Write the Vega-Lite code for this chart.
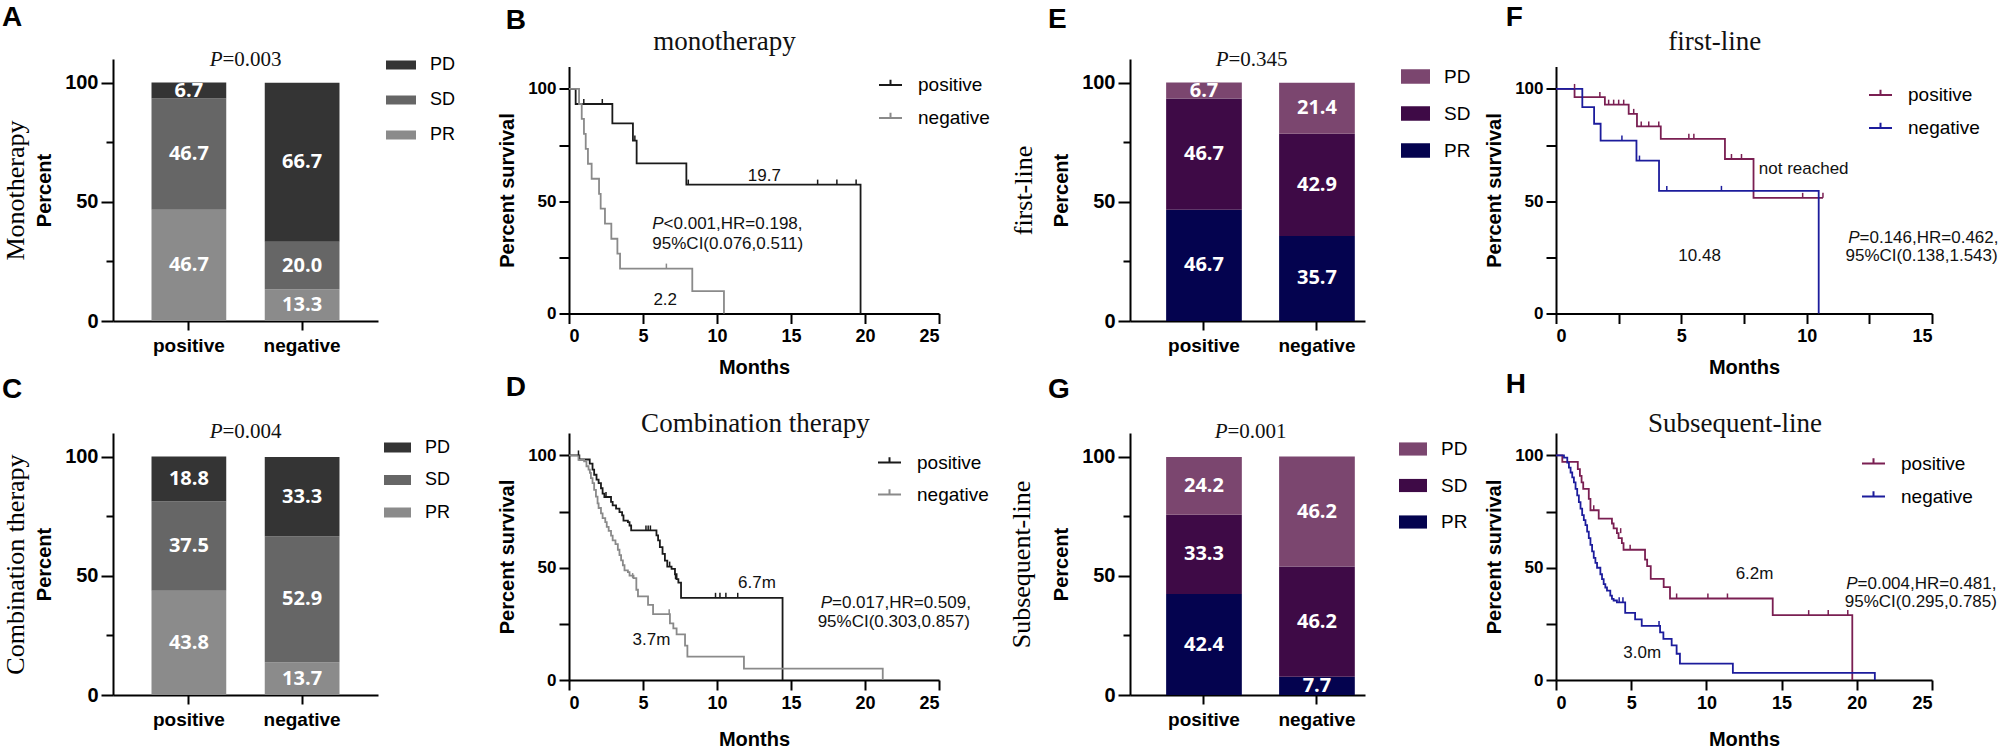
{
  "$schema": "https://vega.github.io/schema/vega-lite/v6.json",
  "background": "white",
  "padding": {"left": 2, "top": 3, "right": 0, "bottom": 0},
  "columns": 4,
  "spacing": {"row": 112, "column": 191},
  "bounds": "flush",
  "align": "each",
  "center": {"row": true, "column": false},
  "datasets": {
    "barA": [
      {"grp": "positive", "s": "PR", "o": 1, "v": 46.7},
      {"grp": "positive", "s": "SD", "o": 2, "v": 46.7},
      {"grp": "positive", "s": "PD", "o": 3, "v": 6.7},
      {"grp": "negative", "s": "PR", "o": 1, "v": 13.3},
      {"grp": "negative", "s": "SD", "o": 2, "v": 20.0},
      {"grp": "negative", "s": "PD", "o": 3, "v": 66.7}
    ],
    "barC": [
      {"grp": "positive", "s": "PR", "o": 1, "v": 43.8},
      {"grp": "positive", "s": "SD", "o": 2, "v": 37.5},
      {"grp": "positive", "s": "PD", "o": 3, "v": 18.8},
      {"grp": "negative", "s": "PR", "o": 1, "v": 13.7},
      {"grp": "negative", "s": "SD", "o": 2, "v": 52.9},
      {"grp": "negative", "s": "PD", "o": 3, "v": 33.3}
    ],
    "barE": [
      {"grp": "positive", "s": "PR", "o": 1, "v": 46.7},
      {"grp": "positive", "s": "SD", "o": 2, "v": 46.7},
      {"grp": "positive", "s": "PD", "o": 3, "v": 6.7},
      {"grp": "negative", "s": "PR", "o": 1, "v": 35.7},
      {"grp": "negative", "s": "SD", "o": 2, "v": 42.9},
      {"grp": "negative", "s": "PD", "o": 3, "v": 21.4}
    ],
    "barG": [
      {"grp": "positive", "s": "PR", "o": 1, "v": 42.4},
      {"grp": "positive", "s": "SD", "o": 2, "v": 33.3},
      {"grp": "positive", "s": "PD", "o": 3, "v": 24.2},
      {"grp": "negative", "s": "PR", "o": 1, "v": 7.7},
      {"grp": "negative", "s": "SD", "o": 2, "v": 46.2},
      {"grp": "negative", "s": "PD", "o": 3, "v": 46.2}
    ],
    "kmB": [
      {"g": "positive", "t": 0, "s": 100}, {"g": "positive", "t": 0.45, "s": 93.3}, {"g": "positive", "t": 2.93, "s": 84.7},
      {"g": "positive", "t": 4.32, "s": 77.0}, {"g": "positive", "t": 4.57, "s": 66.9}, {"g": "positive", "t": 7.93, "s": 57.4},
      {"g": "positive", "t": 19.7, "s": 0},
      {"g": "negative", "t": 0, "s": 100}, {"g": "negative", "t": 0.68, "s": 93.3}, {"g": "negative", "t": 0.86, "s": 86.7},
      {"g": "negative", "t": 1.01, "s": 80.0}, {"g": "negative", "t": 1.13, "s": 73.3}, {"g": "negative", "t": 1.28, "s": 66.7},
      {"g": "negative", "t": 1.53, "s": 60.0}, {"g": "negative", "t": 2.03, "s": 53.3}, {"g": "negative", "t": 2.14, "s": 46.7},
      {"g": "negative", "t": 2.43, "s": 40.0}, {"g": "negative", "t": 2.86, "s": 33.3}, {"g": "negative", "t": 3.27, "s": 26.7},
      {"g": "negative", "t": 3.45, "s": 20.0}, {"g": "negative", "t": 8.33, "s": 10.0}, {"g": "negative", "t": 10.47, "s": 0}
    ],
    "cenB": [
      {"g": "positive", "t": 1.0, "s": 93.3}, {"g": "positive", "t": 2.25, "s": 93.3}, {"g": "positive", "t": 4.45, "s": 77.0},
      {"g": "positive", "t": 8.06, "s": 57.4}, {"g": "positive", "t": 16.8, "s": 57.4}, {"g": "positive", "t": 18.1, "s": 57.4},
      {"g": "positive", "t": 19.4, "s": 57.4},
      {"g": "negative", "t": 6.58, "s": 20.0}
    ],
    "kmD": [
      {"g": "positive", "t": 0, "s": 100}, {"g": "positive", "t": 0.7, "s": 98.2}, {"g": "positive", "t": 1.4, "s": 96.4},
      {"g": "positive", "t": 1.59, "s": 93.7}, {"g": "positive", "t": 1.7, "s": 91.4}, {"g": "positive", "t": 1.86, "s": 89.2},
      {"g": "positive", "t": 2.0, "s": 87.7}, {"g": "positive", "t": 2.16, "s": 85.4}, {"g": "positive", "t": 2.27, "s": 83.0},
      {"g": "positive", "t": 2.39, "s": 81.5}, {"g": "positive", "t": 2.84, "s": 79.3}, {"g": "positive", "t": 2.95, "s": 77.8},
      {"g": "positive", "t": 3.18, "s": 76.3}, {"g": "positive", "t": 3.41, "s": 74.8}, {"g": "positive", "t": 3.59, "s": 73.3},
      {"g": "positive", "t": 3.68, "s": 71.0}, {"g": "positive", "t": 3.98, "s": 70.3}, {"g": "positive", "t": 4.09, "s": 68.8},
      {"g": "positive", "t": 4.2, "s": 66.6}, {"g": "positive", "t": 5.91, "s": 64.4}, {"g": "positive", "t": 6.02, "s": 62.2},
      {"g": "positive", "t": 6.14, "s": 59.2}, {"g": "positive", "t": 6.32, "s": 56.2}, {"g": "positive", "t": 6.48, "s": 53.2},
      {"g": "positive", "t": 6.64, "s": 50.5}, {"g": "positive", "t": 6.93, "s": 49.5}, {"g": "positive", "t": 7.16, "s": 47.1},
      {"g": "positive", "t": 7.27, "s": 44.9}, {"g": "positive", "t": 7.39, "s": 43.4}, {"g": "positive", "t": 7.57, "s": 36.6},
      {"g": "positive", "t": 14.43, "s": 0},
      {"g": "negative", "t": 0, "s": 100}, {"g": "negative", "t": 0.64, "s": 98.0}, {"g": "negative", "t": 1.02, "s": 97.4},
      {"g": "negative", "t": 1.18, "s": 95.2}, {"g": "negative", "t": 1.32, "s": 93.7}, {"g": "negative", "t": 1.41, "s": 92.2},
      {"g": "negative", "t": 1.48, "s": 89.9}, {"g": "negative", "t": 1.59, "s": 87.7}, {"g": "negative", "t": 1.7, "s": 84.7},
      {"g": "negative", "t": 1.82, "s": 81.7}, {"g": "negative", "t": 1.93, "s": 78.7}, {"g": "negative", "t": 2.0, "s": 76.6},
      {"g": "negative", "t": 2.16, "s": 74.2}, {"g": "negative", "t": 2.27, "s": 72.1}, {"g": "negative", "t": 2.45, "s": 70.3},
      {"g": "negative", "t": 2.55, "s": 68.2}, {"g": "negative", "t": 2.68, "s": 66.4}, {"g": "negative", "t": 2.84, "s": 64.3},
      {"g": "negative", "t": 2.95, "s": 62.2}, {"g": "negative", "t": 3.14, "s": 60.5}, {"g": "negative", "t": 3.3, "s": 58.0},
      {"g": "negative", "t": 3.41, "s": 55.6}, {"g": "negative", "t": 3.52, "s": 53.3}, {"g": "negative", "t": 3.64, "s": 51.1},
      {"g": "negative", "t": 3.75, "s": 48.8}, {"g": "negative", "t": 3.98, "s": 48.0}, {"g": "negative", "t": 4.09, "s": 46.5},
      {"g": "negative", "t": 4.36, "s": 45.4}, {"g": "negative", "t": 4.55, "s": 40.2}, {"g": "negative", "t": 4.66, "s": 37.2},
      {"g": "negative", "t": 5.34, "s": 33.5}, {"g": "negative", "t": 5.68, "s": 29.3}, {"g": "negative", "t": 6.82, "s": 25.2},
      {"g": "negative", "t": 7.05, "s": 23.0}, {"g": "negative", "t": 7.27, "s": 20.3}, {"g": "negative", "t": 7.84, "s": 15.3},
      {"g": "negative", "t": 8.0, "s": 10.4}, {"g": "negative", "t": 11.82, "s": 5.1}, {"g": "negative", "t": 21.2, "s": 0}
    ],
    "cenD": [
      {"g": "positive", "t": 0.64, "s": 100}, {"g": "positive", "t": 2.5, "s": 81.5}, {"g": "positive", "t": 5.2, "s": 66.6},
      {"g": "positive", "t": 5.35, "s": 66.6}, {"g": "positive", "t": 5.5, "s": 66.6}, {"g": "positive", "t": 6.8, "s": 50.5},
      {"g": "positive", "t": 7.2, "s": 44.9}, {"g": "positive", "t": 9.9, "s": 36.6}, {"g": "positive", "t": 10.2, "s": 36.6},
      {"g": "positive", "t": 10.6, "s": 36.6}, {"g": "positive", "t": 11.4, "s": 36.6},
      {"g": "negative", "t": 4.3, "s": 45.4}, {"g": "negative", "t": 6.77, "s": 29.3}
    ],
    "kmF": [
      {"g": "positive", "t": 0, "s": 100}, {"g": "positive", "t": 0.74, "s": 96.4}, {"g": "positive", "t": 1.95, "s": 93.0},
      {"g": "positive", "t": 2.9, "s": 88.9}, {"g": "positive", "t": 3.23, "s": 83.3}, {"g": "positive", "t": 4.18, "s": 77.8},
      {"g": "positive", "t": 6.74, "s": 68.8}, {"g": "positive", "t": 7.88, "s": 51.5}, {"g": "positive", "t": 10.65, "s": 51.5},
      {"g": "negative", "t": 0, "s": 100}, {"g": "negative", "t": 1.05, "s": 91.9}, {"g": "negative", "t": 1.52, "s": 84.5},
      {"g": "negative", "t": 1.78, "s": 77.0}, {"g": "negative", "t": 3.21, "s": 68.1}, {"g": "negative", "t": 4.11, "s": 54.6},
      {"g": "negative", "t": 10.48, "s": 0}
    ],
    "cenF": [
      {"g": "positive", "t": 0.74, "s": 100}, {"g": "positive", "t": 1.75, "s": 96.4}, {"g": "positive", "t": 2.1, "s": 93.0},
      {"g": "positive", "t": 2.3, "s": 93.0}, {"g": "positive", "t": 2.5, "s": 93.0}, {"g": "positive", "t": 2.7, "s": 93.0},
      {"g": "positive", "t": 3.1, "s": 88.9}, {"g": "positive", "t": 3.4, "s": 83.3}, {"g": "positive", "t": 3.7, "s": 83.3},
      {"g": "positive", "t": 4.1, "s": 83.3}, {"g": "positive", "t": 5.3, "s": 77.8}, {"g": "positive", "t": 5.5, "s": 77.8},
      {"g": "positive", "t": 7.0, "s": 68.8}, {"g": "positive", "t": 7.4, "s": 68.8}, {"g": "positive", "t": 9.84, "s": 51.5},
      {"g": "positive", "t": 10.65, "s": 51.5},
      {"g": "negative", "t": 2.63, "s": 77.0}, {"g": "negative", "t": 3.33, "s": 68.1}, {"g": "negative", "t": 4.42, "s": 54.6},
      {"g": "negative", "t": 6.6, "s": 54.6}
    ],
    "kmH": [
      {"g": "positive", "t": 0, "s": 100}, {"g": "positive", "t": 0.42, "s": 97.1}, {"g": "positive", "t": 1.45, "s": 93.9},
      {"g": "positive", "t": 1.59, "s": 90.9}, {"g": "positive", "t": 1.7, "s": 88.0}, {"g": "positive", "t": 1.81, "s": 85.1},
      {"g": "positive", "t": 2.18, "s": 80.7}, {"g": "positive", "t": 2.29, "s": 75.6}, {"g": "positive", "t": 2.84, "s": 71.9},
      {"g": "positive", "t": 3.72, "s": 69.7}, {"g": "positive", "t": 3.83, "s": 67.5}, {"g": "positive", "t": 4.05, "s": 65.4},
      {"g": "positive", "t": 4.16, "s": 63.2}, {"g": "positive", "t": 4.38, "s": 61.0}, {"g": "positive", "t": 4.49, "s": 58.0},
      {"g": "positive", "t": 5.92, "s": 53.6}, {"g": "positive", "t": 6.06, "s": 50.7}, {"g": "positive", "t": 6.3, "s": 45.0},
      {"g": "positive", "t": 7.16, "s": 41.4}, {"g": "positive", "t": 7.58, "s": 36.3}, {"g": "positive", "t": 14.41, "s": 28.9},
      {"g": "positive", "t": 19.7, "s": 0},
      {"g": "negative", "t": 0, "s": 100}, {"g": "negative", "t": 0.53, "s": 99.0}, {"g": "negative", "t": 0.75, "s": 96.8},
      {"g": "negative", "t": 0.86, "s": 94.6}, {"g": "negative", "t": 0.97, "s": 92.4}, {"g": "negative", "t": 1.08, "s": 90.2},
      {"g": "negative", "t": 1.19, "s": 88.0}, {"g": "negative", "t": 1.3, "s": 85.1}, {"g": "negative", "t": 1.41, "s": 82.2},
      {"g": "negative", "t": 1.52, "s": 79.2}, {"g": "negative", "t": 1.63, "s": 76.3}, {"g": "negative", "t": 1.74, "s": 73.4},
      {"g": "negative", "t": 1.85, "s": 71.2}, {"g": "negative", "t": 1.96, "s": 69.0}, {"g": "negative", "t": 2.07, "s": 66.1},
      {"g": "negative", "t": 2.18, "s": 63.2}, {"g": "negative", "t": 2.29, "s": 60.2}, {"g": "negative", "t": 2.4, "s": 57.3},
      {"g": "negative", "t": 2.51, "s": 54.4}, {"g": "negative", "t": 2.62, "s": 52.2}, {"g": "negative", "t": 2.73, "s": 50.0},
      {"g": "negative", "t": 2.95, "s": 47.1}, {"g": "negative", "t": 3.06, "s": 44.9}, {"g": "negative", "t": 3.17, "s": 42.7},
      {"g": "negative", "t": 3.28, "s": 41.2}, {"g": "negative", "t": 3.39, "s": 39.8}, {"g": "negative", "t": 3.61, "s": 37.6},
      {"g": "negative", "t": 3.72, "s": 36.1}, {"g": "negative", "t": 3.83, "s": 35.4}, {"g": "negative", "t": 4.05, "s": 34.6},
      {"g": "negative", "t": 4.6, "s": 29.9}, {"g": "negative", "t": 5.26, "s": 27.0}, {"g": "negative", "t": 5.7, "s": 24.1},
      {"g": "negative", "t": 6.92, "s": 21.2}, {"g": "negative", "t": 7.14, "s": 18.3}, {"g": "negative", "t": 7.69, "s": 15.4},
      {"g": "negative", "t": 8.02, "s": 11.7}, {"g": "negative", "t": 8.24, "s": 7.3}, {"g": "negative", "t": 11.76, "s": 3.2},
      {"g": "negative", "t": 21.2, "s": 0}
    ],
    "cenH": [
      {"g": "positive", "t": 2.51, "s": 75.6}, {"g": "positive", "t": 4.3, "s": 65.4}, {"g": "positive", "t": 4.93, "s": 58.0},
      {"g": "positive", "t": 8.02, "s": 36.3}, {"g": "positive", "t": 10.1, "s": 36.3}, {"g": "positive", "t": 11.4, "s": 36.3},
      {"g": "positive", "t": 16.8, "s": 28.9}, {"g": "positive", "t": 18.1, "s": 28.9}, {"g": "positive", "t": 19.4, "s": 28.9},
      {"g": "negative", "t": 4.2, "s": 34.6}, {"g": "negative", "t": 4.45, "s": 34.6}, {"g": "negative", "t": 6.85, "s": 24.1}
    ]
  },
  "concat": [
    {
      "width": 265, "height": 262,
      "title": {"text": "A", "offset": 16.5, "dx": 0},
      "data": {"name": "barA"},
      "layer": [
        {
          "mark": {"type": "bar"},
          "encoding": {
            "x": {"field": "grp", "type": "nominal", "sort": ["positive", "negative"], "scale": {"paddingInner": 0.34, "paddingOuter": 0.34}, "axis": {"title": null, "labelAngle": 0, "labelFontSize": 19, "tickSize": 9, "labelPadding": 6}},
            "y": {"field": "v", "type": "quantitative", "stack": "zero", "scale": {"domain": [0, 110], "nice": false}, "axis": {"title": "Percent", "values": [0, 50, 100], "tickSize": 12, "labelPadding": 3, "labelFontSize": 20, "titleFontSize": 20, "titlePadding": 10, "minExtent": 0}},
            "color": {"field": "s", "type": "nominal", "scale": {"domain": ["PD", "SD", "PR"], "range": ["#343434", "#666666", "#8b8b8b"]}, "legend": {"title": null, "orient": "none", "direction": "vertical", "legendX": 273, "legendY": -9, "symbolType": "M-1,-0.3H1V0.3H-1Z", "symbolSize": 900, "symbolStrokeWidth": 0, "labelFontSize": 18, "labelOffset": 14, "rowPadding": 11}},
            "order": {"field": "o", "type": "quantitative"}
          }
        },
        {
          "transform": [
            {"stack": "v", "groupby": ["grp"], "sort": [{"field": "o"}], "as": ["lo", "hi"]},
            {"fold": ["lo", "hi"], "as": ["edge", "pos"]},
            {"aggregate": [{"op": "mean", "field": "pos", "as": "mid"}], "groupby": ["grp", "s", "v"]}
          ],
          "mark": {"type": "text", "color": "white", "font": "Open Sans", "fontWeight": "bold", "fontSize": 20},
          "encoding": {
            "x": {"field": "grp", "type": "nominal", "sort": ["positive", "negative"], "scale": {"paddingInner": 0.34, "paddingOuter": 0.34}, "axis": {"title": null, "labelAngle": 0, "labelFontSize": 19, "tickSize": 9, "labelPadding": 6}},
            "y": {"field": "mid", "type": "quantitative", "stack": null, "scale": {"domain": [0, 110], "nice": false}, "axis": null},
            "text": {"field": "v", "type": "quantitative", "format": ".1f"}
          }
        },
        {
          "data": {"values": [{}]},
          "mark": {"type": "text", "font": "Liberation Serif", "fontSize": 21, "fontStyle": "italic", "align": "right", "dx": -23},
          "encoding": {"y": {"datum": 109.6, "scale": {"domain": [0, 110], "nice": false}, "axis": null}, "text": {"value": "P"}}
        },
        {
          "data": {"values": [{}]},
          "mark": {"type": "text", "font": "Liberation Serif", "fontSize": 21, "align": "left", "dx": -23},
          "encoding": {"y": {"datum": 109.6, "scale": {"domain": [0, 110], "nice": false}, "axis": null}, "text": {"value": "=0.003"}}
        },
        {
          "data": {"values": [{}]},
          "mark": {"type": "rule", "opacity": 0},
          "encoding": {"y": {"datum": 0, "scale": {"domain": [0, 110], "nice": false}, "axis": {"orient": "left", "values": [25, 75], "tickSize": 7, "labels": false, "domain": false, "minExtent": 0, "title": "Monotherapy", "titleFont": "Liberation Serif", "titleFontWeight": "normal", "titleFontSize": 26, "titlePadding": 77}}}
        }
      ],
      "resolve": {"scale": {"y": "independent"}, "axis": {"y": "independent"}}
    },
    {
      "width": 370, "height": 247,
      "title": {"text": "B", "offset": -6.7, "dx": 8},
      "layer": [
        {
          "data": {"name": "kmB"},
          "mark": {"type": "line", "interpolate": "step-after", "strokeWidth": 1.8},
          "encoding": {
            "x": {"field": "t", "type": "quantitative", "title": "Months", "scale": {"domain": [0, 25], "nice": false}, "axis": {"values": [0, 5, 10, 15, 20, 25], "tickSize": 10, "labelFontSize": 18, "labelPadding": 4, "titleFontSize": 20, "titlePadding": 12}},
            "y": {"field": "s", "type": "quantitative", "title": "Percent survival", "scale": {"domain": [0, 110], "nice": false}, "axis": {"values": [0, 25, 50, 75, 100], "labelExpr": "datum.value % 50 == 0 ? datum.label : ''", "tickSize": 10, "labelFontSize": 17, "labelPadding": 3, "titleFontSize": 20, "titlePadding": 10, "minExtent": 0}},
            "color": {"field": "g", "type": "nominal", "scale": {"domain": ["positive", "negative"], "range": ["#1a1a1a", "#8a8a8a"]}, "legend": {"title": null, "orient": "none", "direction": "vertical", "legendX": 309, "legendY": 6, "symbolType": "M-1,0H1M0,0V-0.45", "symbolSize": 529, "symbolStrokeWidth": 2, "labelFontSize": 19, "labelOffset": 15, "rowPadding": 10}}
          }
        },
        {
          "data": {"name": "cenB"},
          "mark": {"type": "point", "shape": "M0,0V-1", "size": 100, "filled": false, "strokeWidth": 1.5, "opacity": 1},
          "encoding": {
            "x": {"field": "t", "type": "quantitative", "title": "Months"},
            "y": {"field": "s", "type": "quantitative", "title": "Percent survival"},
            "color": {"field": "g", "type": "nominal", "legend": {"title": null, "orient": "none", "direction": "vertical", "legendX": 309, "legendY": 6, "symbolType": "M-1,0H1M0,0V-0.45", "symbolSize": 529, "symbolStrokeWidth": 2, "labelFontSize": 19, "labelOffset": 15, "rowPadding": 10}}
          }
        },
        {"data": {"values": [{}]}, "mark": {"type": "text", "font": "Liberation Serif", "fontSize": 27}, "encoding": {"x": {"datum": 10.5}, "y": {"datum": 121}, "text": {"value": "monotherapy"}}},
        {"data": {"values": [{}]}, "mark": {"type": "text", "fontSize": 17}, "encoding": {"x": {"datum": 13.2}, "y": {"datum": 61.4}, "text": {"value": "19.7"}}},
        {"data": {"values": [{}]}, "mark": {"type": "text", "fontSize": 17, "fontStyle": "italic", "align": "right"}, "encoding": {"x": {"datum": 6.39}, "y": {"datum": 39.8}, "text": {"value": "P"}}},
        {"data": {"values": [{}]}, "mark": {"type": "text", "fontSize": 17, "align": "left"}, "encoding": {"x": {"datum": 6.39}, "y": {"datum": 39.8}, "text": {"value": "<0.001,HR=0.198,"}}},
        {"data": {"values": [{}]}, "mark": {"type": "text", "fontSize": 17, "align": "left"}, "encoding": {"x": {"datum": 5.63}, "y": {"datum": 30.9}, "text": {"value": "95%CI(0.076,0.511)"}}},
        {"data": {"values": [{}]}, "mark": {"type": "text", "fontSize": 17}, "encoding": {"x": {"datum": 6.5}, "y": {"datum": 6.1}, "text": {"value": "2.2"}}}
      ]
    },
    {
      "width": 235, "height": 262,
      "title": {"text": "E", "offset": 14.5, "dx": 38},
      "data": {"name": "barE"},
      "layer": [
        {
          "mark": {"type": "bar"},
          "encoding": {
            "x": {"field": "grp", "type": "nominal", "sort": ["positive", "negative"], "scale": {"paddingInner": 0.33, "paddingOuter": 0.205, "align": 0.78}, "axis": {"title": null, "labelAngle": 0, "labelFontSize": 19, "tickSize": 9, "labelPadding": 6}},
            "y": {"field": "v", "type": "quantitative", "stack": "zero", "scale": {"domain": [0, 110], "nice": false}, "axis": {"title": "Percent", "values": [0, 50, 100], "tickSize": 12, "labelPadding": 3, "labelFontSize": 20, "titleFontSize": 20, "titlePadding": 10, "minExtent": 0}},
            "color": {"field": "s", "type": "nominal", "scale": {"domain": ["PD", "SD", "PR"], "range": ["#7b466f", "#3e0a46", "#04034f"]}, "legend": {"title": null, "orient": "none", "direction": "vertical", "legendX": 271, "legendY": 3, "symbolType": "M-1,-0.5H1V0.5H-1Z", "symbolSize": 841, "symbolStrokeWidth": 0, "labelFontSize": 19, "labelOffset": 14, "rowPadding": 12}},
            "order": {"field": "o", "type": "quantitative"}
          }
        },
        {
          "transform": [
            {"stack": "v", "groupby": ["grp"], "sort": [{"field": "o"}], "as": ["lo", "hi"]},
            {"fold": ["lo", "hi"], "as": ["edge", "pos"]},
            {"aggregate": [{"op": "mean", "field": "pos", "as": "mid"}], "groupby": ["grp", "s", "v"]}
          ],
          "mark": {"type": "text", "color": "white", "font": "Open Sans", "fontWeight": "bold", "fontSize": 20},
          "encoding": {
            "x": {"field": "grp", "type": "nominal", "sort": ["positive", "negative"], "scale": {"paddingInner": 0.33, "paddingOuter": 0.205, "align": 0.78}, "axis": {"title": null, "labelAngle": 0, "labelFontSize": 19, "tickSize": 9, "labelPadding": 6}},
            "y": {"field": "mid", "type": "quantitative", "stack": null, "scale": {"domain": [0, 110], "nice": false}, "axis": null},
            "text": {"field": "v", "type": "quantitative", "format": ".1f"}
          }
        },
        {
          "data": {"values": [{}]},
          "mark": {"type": "text", "font": "Liberation Serif", "fontSize": 21, "fontStyle": "italic", "align": "right", "dx": -19},
          "encoding": {"y": {"datum": 109.6, "scale": {"domain": [0, 110], "nice": false}, "axis": null}, "text": {"value": "P"}}
        },
        {
          "data": {"values": [{}]},
          "mark": {"type": "text", "font": "Liberation Serif", "fontSize": 21, "align": "left", "dx": -19},
          "encoding": {"y": {"datum": 109.6, "scale": {"domain": [0, 110], "nice": false}, "axis": null}, "text": {"value": "=0.345"}}
        },
        {
          "data": {"values": [{}]},
          "mark": {"type": "rule", "opacity": 0},
          "encoding": {"y": {"datum": 0, "scale": {"domain": [0, 110], "nice": false}, "axis": {"orient": "left", "values": [25, 75], "tickSize": 7, "labels": false, "domain": false, "minExtent": 0, "title": "first-line", "titleFont": "Liberation Serif", "titleFontWeight": "normal", "titleFontSize": 26, "titlePadding": 86}}}
        }
      ],
      "resolve": {"scale": {"y": "independent"}, "axis": {"y": "independent"}}
    },
    {
      "width": 376, "height": 247,
      "title": {"text": "F", "offset": -3.7, "dx": 21},
      "layer": [
        {
          "data": {"name": "kmF"},
          "mark": {"type": "line", "interpolate": "step-after", "strokeWidth": 1.8},
          "encoding": {
            "x": {"field": "t", "type": "quantitative", "title": "Months", "scale": {"domain": [0, 15], "nice": false}, "axis": {"values": [0, 2.5, 5, 7.5, 10, 12.5, 15], "labelExpr": "datum.value % 5 == 0 ? datum.label : ''", "tickSize": 10, "labelFontSize": 18, "labelPadding": 4, "titleFontSize": 20, "titlePadding": 12}},
            "y": {"field": "s", "type": "quantitative", "title": "Percent survival", "scale": {"domain": [0, 110], "nice": false}, "axis": {"values": [0, 25, 50, 75, 100], "labelExpr": "datum.value % 50 == 0 ? datum.label : ''", "tickSize": 10, "labelFontSize": 17, "labelPadding": 3, "titleFontSize": 20, "titlePadding": 10, "minExtent": 0}},
            "color": {"field": "g", "type": "nominal", "scale": {"domain": ["positive", "negative"], "range": ["#7a1f52", "#1c1c9c"]}, "legend": {"title": null, "orient": "none", "direction": "vertical", "legendX": 312, "legendY": 16, "symbolType": "M-1,0H1M0,0V-0.45", "symbolSize": 529, "symbolStrokeWidth": 2, "labelFontSize": 19, "labelOffset": 15, "rowPadding": 10}}
          }
        },
        {
          "data": {"name": "cenF"},
          "mark": {"type": "point", "shape": "M0,0V-1", "size": 100, "filled": false, "strokeWidth": 1.5, "opacity": 1},
          "encoding": {
            "x": {"field": "t", "type": "quantitative", "title": "Months"},
            "y": {"field": "s", "type": "quantitative", "title": "Percent survival"},
            "color": {"field": "g", "type": "nominal", "legend": {"title": null, "orient": "none", "direction": "vertical", "legendX": 312, "legendY": 16, "symbolType": "M-1,0H1M0,0V-0.45", "symbolSize": 529, "symbolStrokeWidth": 2, "labelFontSize": 19, "labelOffset": 15, "rowPadding": 10}}
          }
        },
        {"data": {"values": [{}]}, "mark": {"type": "text", "font": "Liberation Serif", "fontSize": 27}, "encoding": {"x": {"datum": 6.33}, "y": {"datum": 121}, "text": {"value": "first-line"}}},
        {"data": {"values": [{}]}, "mark": {"type": "text", "fontSize": 17, "align": "left"}, "encoding": {"x": {"datum": 8.09}, "y": {"datum": 64.3}, "text": {"value": "not reached"}}},
        {"data": {"values": [{}]}, "mark": {"type": "text", "fontSize": 17}, "encoding": {"x": {"datum": 5.73}, "y": {"datum": 25.4}, "text": {"value": "10.48"}}},
        {"data": {"values": [{}]}, "mark": {"type": "text", "fontSize": 17, "fontStyle": "italic", "align": "right"}, "encoding": {"x": {"datum": 12.11}, "y": {"datum": 33.7}, "text": {"value": "P"}}},
        {"data": {"values": [{}]}, "mark": {"type": "text", "fontSize": 17, "align": "left"}, "encoding": {"x": {"datum": 12.11}, "y": {"datum": 33.7}, "text": {"value": "=0.146,HR=0.462,"}}},
        {"data": {"values": [{}]}, "mark": {"type": "text", "fontSize": 17, "align": "left"}, "encoding": {"x": {"datum": 11.55}, "y": {"datum": 25.4}, "text": {"value": "95%CI(0.138,1.543)"}}}
      ]
    },
    {
      "width": 265, "height": 262,
      "title": {"text": "C", "offset": 16.8, "dx": 0},
      "data": {"name": "barC"},
      "layer": [
        {
          "mark": {"type": "bar"},
          "encoding": {
            "x": {"field": "grp", "type": "nominal", "sort": ["positive", "negative"], "scale": {"paddingInner": 0.34, "paddingOuter": 0.34}, "axis": {"title": null, "labelAngle": 0, "labelFontSize": 19, "tickSize": 9, "labelPadding": 6}},
            "y": {"field": "v", "type": "quantitative", "stack": "zero", "scale": {"domain": [0, 110], "nice": false}, "axis": {"title": "Percent", "values": [0, 50, 100], "tickSize": 12, "labelPadding": 3, "labelFontSize": 20, "titleFontSize": 20, "titlePadding": 10, "minExtent": 0}},
            "color": {"field": "s", "type": "nominal", "scale": {"domain": ["PD", "SD", "PR"], "range": ["#343434", "#666666", "#8b8b8b"]}, "legend": {"title": null, "orient": "none", "direction": "vertical", "legendX": 271, "legendY": 1, "symbolType": "M-1,-0.37H1V0.37H-1Z", "symbolSize": 729, "symbolStrokeWidth": 0, "labelFontSize": 18, "labelOffset": 14, "rowPadding": 9.5}},
            "order": {"field": "o", "type": "quantitative"}
          }
        },
        {
          "transform": [
            {"stack": "v", "groupby": ["grp"], "sort": [{"field": "o"}], "as": ["lo", "hi"]},
            {"fold": ["lo", "hi"], "as": ["edge", "pos"]},
            {"aggregate": [{"op": "mean", "field": "pos", "as": "mid"}], "groupby": ["grp", "s", "v"]}
          ],
          "mark": {"type": "text", "color": "white", "font": "Open Sans", "fontWeight": "bold", "fontSize": 20},
          "encoding": {
            "x": {"field": "grp", "type": "nominal", "sort": ["positive", "negative"], "scale": {"paddingInner": 0.34, "paddingOuter": 0.34}, "axis": {"title": null, "labelAngle": 0, "labelFontSize": 19, "tickSize": 9, "labelPadding": 6}},
            "y": {"field": "mid", "type": "quantitative", "stack": null, "scale": {"domain": [0, 110], "nice": false}, "axis": null},
            "text": {"field": "v", "type": "quantitative", "format": ".1f"}
          }
        },
        {
          "data": {"values": [{}]},
          "mark": {"type": "text", "font": "Liberation Serif", "fontSize": 21, "fontStyle": "italic", "align": "right", "dx": -23},
          "encoding": {"y": {"datum": 110.3, "scale": {"domain": [0, 110], "nice": false}, "axis": null}, "text": {"value": "P"}}
        },
        {
          "data": {"values": [{}]},
          "mark": {"type": "text", "font": "Liberation Serif", "fontSize": 21, "align": "left", "dx": -23},
          "encoding": {"y": {"datum": 110.3, "scale": {"domain": [0, 110], "nice": false}, "axis": null}, "text": {"value": "=0.004"}}
        },
        {
          "data": {"values": [{}]},
          "mark": {"type": "rule", "opacity": 0},
          "encoding": {"y": {"datum": 0, "scale": {"domain": [0, 110], "nice": false}, "axis": {"orient": "left", "values": [25, 75], "tickSize": 7, "labels": false, "domain": false, "minExtent": 0, "title": "Combination therapy", "titleFont": "Liberation Serif", "titleFontWeight": "normal", "titleFontSize": 26, "titlePadding": 77}}}
        }
      ],
      "resolve": {"scale": {"y": "independent"}, "axis": {"y": "independent"}}
    },
    {
      "width": 370, "height": 247,
      "title": {"text": "D", "offset": 8, "dx": 8},
      "layer": [
        {
          "data": {"name": "kmD"},
          "mark": {"type": "line", "interpolate": "step-after", "strokeWidth": 1.8},
          "encoding": {
            "x": {"field": "t", "type": "quantitative", "title": "Months", "scale": {"domain": [0, 25], "nice": false}, "axis": {"values": [0, 5, 10, 15, 20, 25], "tickSize": 10, "labelFontSize": 18, "labelPadding": 4, "titleFontSize": 20, "titlePadding": 17}},
            "y": {"field": "s", "type": "quantitative", "title": "Percent survival", "scale": {"domain": [0, 110], "nice": false}, "axis": {"values": [0, 25, 50, 75, 100], "labelExpr": "datum.value % 50 == 0 ? datum.label : ''", "tickSize": 10, "labelFontSize": 17, "labelPadding": 3, "titleFontSize": 20, "titlePadding": 10, "minExtent": 0}},
            "color": {"field": "g", "type": "nominal", "scale": {"domain": ["positive", "negative"], "range": ["#1a1a1a", "#8a8a8a"]}, "legend": {"title": null, "orient": "none", "direction": "vertical", "legendX": 308, "legendY": 17, "symbolType": "M-1,0H1M0,0V-0.45", "symbolSize": 529, "symbolStrokeWidth": 2, "labelFontSize": 19, "labelOffset": 15, "rowPadding": 9}}
          }
        },
        {
          "data": {"name": "cenD"},
          "mark": {"type": "point", "shape": "M0,0V-1", "size": 100, "filled": false, "strokeWidth": 1.5, "opacity": 1},
          "encoding": {
            "x": {"field": "t", "type": "quantitative", "title": "Months"},
            "y": {"field": "s", "type": "quantitative", "title": "Percent survival"},
            "color": {"field": "g", "type": "nominal", "legend": {"title": null, "orient": "none", "direction": "vertical", "legendX": 308, "legendY": 17, "symbolType": "M-1,0H1M0,0V-0.45", "symbolSize": 529, "symbolStrokeWidth": 2, "labelFontSize": 19, "labelOffset": 15, "rowPadding": 9}}
          }
        },
        {"data": {"values": [{}]}, "mark": {"type": "text", "font": "Liberation Serif", "fontSize": 27}, "encoding": {"x": {"datum": 12.6}, "y": {"datum": 114}, "text": {"value": "Combination therapy"}}},
        {"data": {"values": [{}]}, "mark": {"type": "text", "fontSize": 17}, "encoding": {"x": {"datum": 12.7}, "y": {"datum": 43.2}, "text": {"value": "6.7m"}}},
        {"data": {"values": [{}]}, "mark": {"type": "text", "fontSize": 17, "fontStyle": "italic", "align": "right"}, "encoding": {"x": {"datum": 17.77}, "y": {"datum": 34.2}, "text": {"value": "P"}}},
        {"data": {"values": [{}]}, "mark": {"type": "text", "fontSize": 17, "align": "left"}, "encoding": {"x": {"datum": 17.77}, "y": {"datum": 34.2}, "text": {"value": "=0.017,HR=0.509,"}}},
        {"data": {"values": [{}]}, "mark": {"type": "text", "fontSize": 17, "align": "left"}, "encoding": {"x": {"datum": 16.8}, "y": {"datum": 26}, "text": {"value": "95%CI(0.303,0.857)"}}},
        {"data": {"values": [{}]}, "mark": {"type": "text", "fontSize": 17}, "encoding": {"x": {"datum": 5.57}, "y": {"datum": 17.7}, "text": {"value": "3.7m"}}}
      ]
    },
    {
      "width": 235, "height": 262,
      "title": {"text": "G", "offset": 16.8, "dx": 40},
      "data": {"name": "barG"},
      "layer": [
        {
          "mark": {"type": "bar"},
          "encoding": {
            "x": {"field": "grp", "type": "nominal", "sort": ["positive", "negative"], "scale": {"paddingInner": 0.33, "paddingOuter": 0.205, "align": 0.78}, "axis": {"title": null, "labelAngle": 0, "labelFontSize": 19, "tickSize": 9, "labelPadding": 6}},
            "y": {"field": "v", "type": "quantitative", "stack": "zero", "scale": {"domain": [0, 110], "nice": false}, "axis": {"title": "Percent", "values": [0, 50, 100], "tickSize": 12, "labelPadding": 3, "labelFontSize": 20, "titleFontSize": 20, "titlePadding": 10, "minExtent": 0}},
            "color": {"field": "s", "type": "nominal", "scale": {"domain": ["PD", "SD", "PR"], "range": ["#7b466f", "#3e0a46", "#04034f"]}, "legend": {"title": null, "orient": "none", "direction": "vertical", "legendX": 269, "legendY": 2, "symbolType": "M-1,-0.47H1V0.47H-1Z", "symbolSize": 784, "symbolStrokeWidth": 0, "labelFontSize": 19, "labelOffset": 14, "rowPadding": 12.5}},
            "order": {"field": "o", "type": "quantitative"}
          }
        },
        {
          "transform": [
            {"stack": "v", "groupby": ["grp"], "sort": [{"field": "o"}], "as": ["lo", "hi"]},
            {"fold": ["lo", "hi"], "as": ["edge", "pos"]},
            {"aggregate": [{"op": "mean", "field": "pos", "as": "mid"}], "groupby": ["grp", "s", "v"]}
          ],
          "mark": {"type": "text", "color": "white", "font": "Open Sans", "fontWeight": "bold", "fontSize": 20},
          "encoding": {
            "x": {"field": "grp", "type": "nominal", "sort": ["positive", "negative"], "scale": {"paddingInner": 0.33, "paddingOuter": 0.205, "align": 0.78}, "axis": {"title": null, "labelAngle": 0, "labelFontSize": 19, "tickSize": 9, "labelPadding": 6}},
            "y": {"field": "mid", "type": "quantitative", "stack": null, "scale": {"domain": [0, 110], "nice": false}, "axis": null},
            "text": {"field": "v", "type": "quantitative", "format": ".1f"}
          }
        },
        {
          "data": {"values": [{}]},
          "mark": {"type": "text", "font": "Liberation Serif", "fontSize": 21, "fontStyle": "italic", "align": "right", "dx": -20},
          "encoding": {"y": {"datum": 110.3, "scale": {"domain": [0, 110], "nice": false}, "axis": null}, "text": {"value": "P"}}
        },
        {
          "data": {"values": [{}]},
          "mark": {"type": "text", "font": "Liberation Serif", "fontSize": 21, "align": "left", "dx": -20},
          "encoding": {"y": {"datum": 110.3, "scale": {"domain": [0, 110], "nice": false}, "axis": null}, "text": {"value": "=0.001"}}
        },
        {
          "data": {"values": [{}]},
          "mark": {"type": "rule", "opacity": 0},
          "encoding": {"y": {"datum": 0, "scale": {"domain": [0, 110], "nice": false}, "axis": {"orient": "left", "values": [25, 75], "tickSize": 7, "labels": false, "domain": false, "minExtent": 0, "title": "Subsequent-line", "titleFont": "Liberation Serif", "titleFontWeight": "normal", "titleFontSize": 26, "titlePadding": 88}}}
        }
      ],
      "resolve": {"scale": {"y": "independent"}, "axis": {"y": "independent"}}
    },
    {
      "width": 376, "height": 247,
      "title": {"text": "H", "offset": 11, "dx": 21},
      "layer": [
        {
          "data": {"name": "kmH"},
          "mark": {"type": "line", "interpolate": "step-after", "strokeWidth": 1.8},
          "encoding": {
            "x": {"field": "t", "type": "quantitative", "title": "Months", "scale": {"domain": [0, 25], "nice": false}, "axis": {"values": [0, 5, 10, 15, 20, 25], "tickSize": 10, "labelFontSize": 18, "labelPadding": 4, "titleFontSize": 20, "titlePadding": 17}},
            "y": {"field": "s", "type": "quantitative", "title": "Percent survival", "scale": {"domain": [0, 110], "nice": false}, "axis": {"values": [0, 25, 50, 75, 100], "labelExpr": "datum.value % 50 == 0 ? datum.label : ''", "tickSize": 10, "labelFontSize": 17, "labelPadding": 3, "titleFontSize": 20, "titlePadding": 10, "minExtent": 0}},
            "color": {"field": "g", "type": "nominal", "scale": {"domain": ["positive", "negative"], "range": ["#7a1f52", "#1c1c9c"]}, "legend": {"title": null, "orient": "none", "direction": "vertical", "legendX": 305, "legendY": 18, "symbolType": "M-1,0H1M0,0V-0.45", "symbolSize": 529, "symbolStrokeWidth": 2, "labelFontSize": 19, "labelOffset": 15, "rowPadding": 10}}
          }
        },
        {
          "data": {"name": "cenH"},
          "mark": {"type": "point", "shape": "M0,0V-1", "size": 100, "filled": false, "strokeWidth": 1.5, "opacity": 1},
          "encoding": {
            "x": {"field": "t", "type": "quantitative", "title": "Months"},
            "y": {"field": "s", "type": "quantitative", "title": "Percent survival"},
            "color": {"field": "g", "type": "nominal", "legend": {"title": null, "orient": "none", "direction": "vertical", "legendX": 305, "legendY": 18, "symbolType": "M-1,0H1M0,0V-0.45", "symbolSize": 529, "symbolStrokeWidth": 2, "labelFontSize": 19, "labelOffset": 15, "rowPadding": 10}}
          }
        },
        {"data": {"values": [{}]}, "mark": {"type": "text", "font": "Liberation Serif", "fontSize": 27}, "encoding": {"x": {"datum": 11.9}, "y": {"datum": 114}, "text": {"value": "Subsequent-line"}}},
        {"data": {"values": [{}]}, "mark": {"type": "text", "fontSize": 17}, "encoding": {"x": {"datum": 13.2}, "y": {"datum": 47}, "text": {"value": "6.2m"}}},
        {"data": {"values": [{}]}, "mark": {"type": "text", "fontSize": 17, "fontStyle": "italic", "align": "right"}, "encoding": {"x": {"datum": 20.05}, "y": {"datum": 42.6}, "text": {"value": "P"}}},
        {"data": {"values": [{}]}, "mark": {"type": "text", "fontSize": 17, "align": "left"}, "encoding": {"x": {"datum": 20.05}, "y": {"datum": 42.6}, "text": {"value": "=0.004,HR=0.481,"}}},
        {"data": {"values": [{}]}, "mark": {"type": "text", "fontSize": 17, "align": "left"}, "encoding": {"x": {"datum": 19.2}, "y": {"datum": 34.6}, "text": {"value": "95%CI(0.295,0.785)"}}},
        {"data": {"values": [{}]}, "mark": {"type": "text", "fontSize": 17}, "encoding": {"x": {"datum": 5.73}, "y": {"datum": 12}, "text": {"value": "3.0m"}}}
      ]
    }
  ],
  "resolve": {
    "scale": {"x": "independent", "y": "independent", "color": "independent"},
    "axis": {"x": "independent", "y": "independent"},
    "legend": {"color": "independent"}
  },
  "config": {
    "view": {"stroke": null},
    "font": "Liberation Sans",
    "text": {"font": "Liberation Sans", "color": "#111111", "baseline": "middle"},
    "axis": {"grid": false, "domainColor": "black", "domainWidth": 2, "tickColor": "black", "tickWidth": 2, "labelColor": "black", "titleColor": "black", "labelFont": "Liberation Sans", "labelFontWeight": "bold", "titleFont": "Liberation Sans", "titleFontWeight": "bold"},
    "legend": {"labelFont": "Liberation Sans", "labelColor": "black"},
    "title": {"font": "Liberation Sans", "fontSize": 28, "fontWeight": "bold", "color": "black", "anchor": "start", "frame": "bounds", "baseline": "top"}
  }
}
